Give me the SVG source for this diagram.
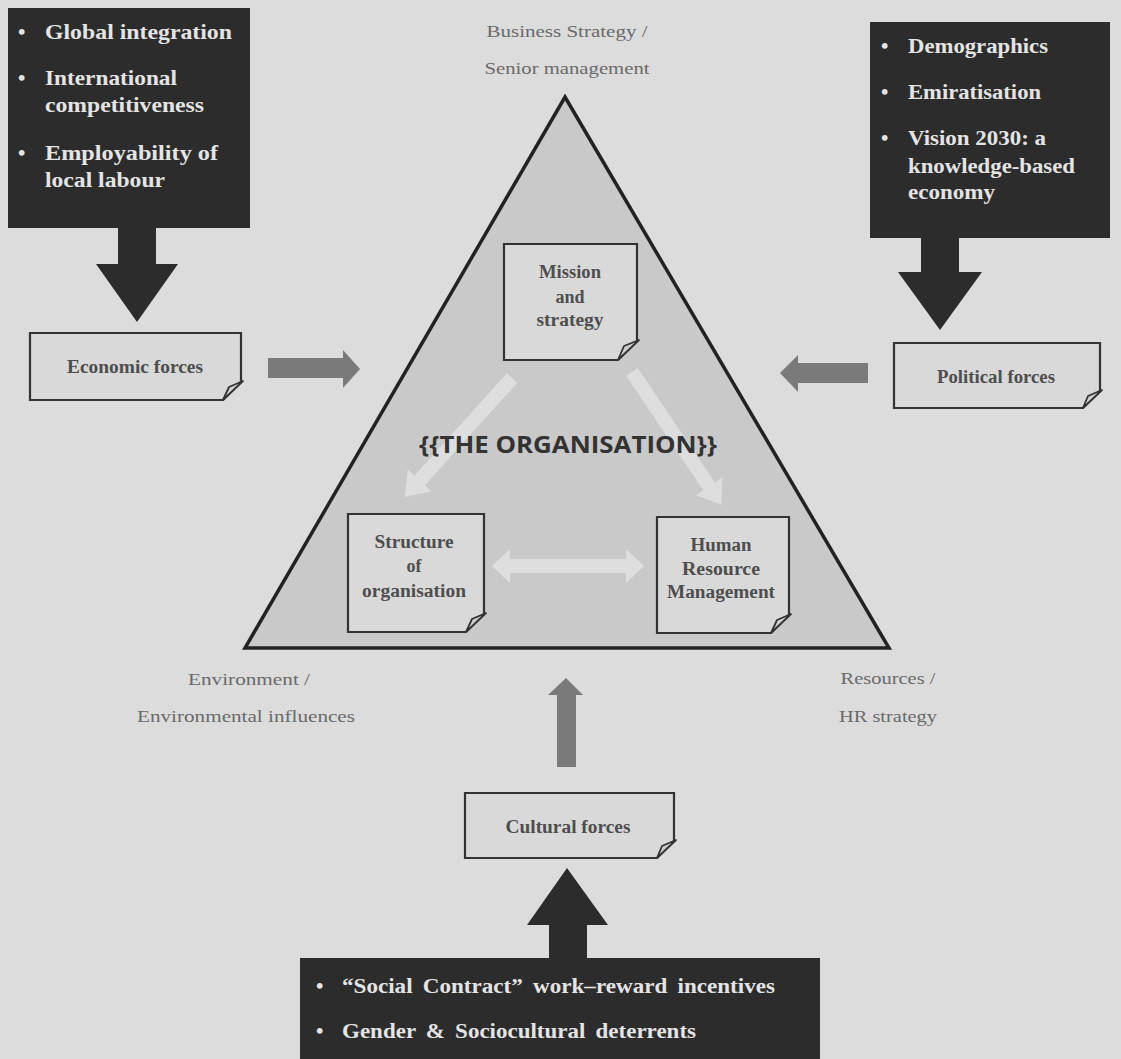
<svg xmlns="http://www.w3.org/2000/svg" width="1121" height="1059" viewBox="0 0 1121 1059">
<defs>
<style>
.dark{fill:#2c2c2c}
.bul{font-family:"Liberation Serif",serif;font-weight:bold;font-size:21px;fill:#e4e4e4}
.bb{font-family:"Liberation Serif",serif;font-weight:bold;font-size:17px;fill:#e4e4e4}
.note{fill:#d9d9d9;stroke:#333;stroke-width:2.2}
.flap{fill:#cfcfcf;stroke:#333;stroke-width:1.8;stroke-linejoin:round}
.nt{font-family:"Liberation Serif",serif;font-weight:bold;font-size:18px;fill:#4e4e4e;text-anchor:middle}
.lbl{font-family:"Liberation Serif",serif;font-size:17px;fill:#6a6a6a;text-anchor:middle}
.garr{fill:#7a7a7a}
.larr{fill:#e2e2e2}
</style>
</defs>
<rect width="1121" height="1059" fill="#dcdcdc"/>

<g id="triangle">
<polygon points="565,97 889,648 245,648" fill="#c9c9c9" stroke="#222" stroke-width="3.5" stroke-linejoin="miter"/>
</g>

<g id="labels">
<text class="lbl" x="567" y="37" textLength="161" lengthAdjust="spacingAndGlyphs">Business Strategy /</text>
<text class="lbl" x="567" y="74" textLength="165" lengthAdjust="spacingAndGlyphs">Senior management</text>
<text class="lbl" x="249" y="685" textLength="122" lengthAdjust="spacingAndGlyphs">Environment /</text>
<text class="lbl" x="246" y="722" textLength="218" lengthAdjust="spacingAndGlyphs">Environmental influences</text>
<text class="lbl" x="888" y="684" textLength="95" lengthAdjust="spacingAndGlyphs">Resources /</text>
<text class="lbl" x="888" y="722" textLength="98" lengthAdjust="spacingAndGlyphs">HR strategy</text>
</g>

<g id="connectors">
<polygon class="dark" points="118,228 156,228 156,264 178,264 137,322 96,264 118,264"/>
<polygon class="dark" points="921,238 959,238 959,272 982,272 940,330 898,272 921,272"/>
<polygon class="dark" points="549,958 587,958 587,925 608,925 567,868 527,925 549,925"/>
<polygon class="garr" points="268,358 343,358 343,350 360,369 343,388 343,378 268,378"/>
<polygon class="garr" points="868,363 798,363 798,355 780,373 798,392 798,383 868,383"/>
<polygon class="garr" points="557,767 557,695 548,695 566,678 583,695 576,695 576,767"/>
<polygon class="larr" opacity="0.85" transform="translate(512,378) rotate(132)" points="0,-7 138,-7 138,-16 160,0 138,16 138,7 0,7"/>
<polygon class="larr" opacity="0.85" transform="translate(632,372) rotate(56)" points="0,-7 138,-7 138,-16 160,0 138,16 138,7 0,7"/>
<polygon class="larr" opacity="0.85" points="492,566 510,549 510,559 626,559 626,549 644,566 626,583 626,573 510,573 510,583"/>
</g>

<g id="organisation-title">
<text x="568" y="453" font-family="'Open Sans',sans-serif" font-weight="bold" font-size="24" fill="#333" text-anchor="middle" textLength="298" lengthAdjust="spacingAndGlyphs">{{THE ORGANISATION}}</text>
</g>

<g id="economic-box">
<rect class="dark" x="8" y="8" width="242" height="220"/>
<text class="bul" x="18" y="39">•</text><text class="bul" x="45" y="39" textLength="187" lengthAdjust="spacingAndGlyphs">Global integration</text>
<text class="bul" x="18" y="85">•</text><text class="bul" x="45" y="85" textLength="132" lengthAdjust="spacingAndGlyphs">International</text>
<text class="bul" x="45" y="112" textLength="159" lengthAdjust="spacingAndGlyphs">competitiveness</text>
<text class="bul" x="18" y="160">•</text><text class="bul" x="45" y="160" textLength="173" lengthAdjust="spacingAndGlyphs">Employability of</text>
<text class="bul" x="45" y="187" textLength="120" lengthAdjust="spacingAndGlyphs">local labour</text>
</g>

<g id="political-box">
<rect class="dark" x="870" y="22" width="240" height="216"/>
<text class="bul" x="881" y="53">•</text><text class="bul" x="908" y="53" textLength="140" lengthAdjust="spacingAndGlyphs">Demographics</text>
<text class="bul" x="881" y="99">•</text><text class="bul" x="908" y="99" textLength="133" lengthAdjust="spacingAndGlyphs">Emiratisation</text>
<text class="bul" x="881" y="145">•</text><text class="bul" x="908" y="145" textLength="138" lengthAdjust="spacingAndGlyphs">Vision 2030: a</text>
<text class="bul" x="908" y="173" textLength="167" lengthAdjust="spacingAndGlyphs">knowledge-based</text>
<text class="bul" x="908" y="199" textLength="87" lengthAdjust="spacingAndGlyphs">economy</text>
</g>

<g id="cultural-box">
<rect class="dark" x="300" y="958" width="520" height="110"/>
<text class="bul" x="316" y="993">•</text><text class="bul" x="342" y="993" textLength="433" lengthAdjust="spacingAndGlyphs" word-spacing="4">“Social Contract” work–reward incentives</text>
<text class="bul" x="316" y="1038">•</text><text class="bul" x="342" y="1038" textLength="354" lengthAdjust="spacingAndGlyphs" word-spacing="4">Gender &amp; Sociocultural deterrents</text>
</g>

<g id="economic-forces">
<path class="note" d="M30,333 H241 V382 L223,400 H30 Z"/>
<path class="flap" d="M243,381 L229,387 L223,400 Z"/>
<text class="nt" x="135" y="373" textLength="136" lengthAdjust="spacingAndGlyphs">Economic forces</text>
</g>

<g id="political-forces">
<path class="note" d="M894,343 H1100 V391 L1083,408 H894 Z"/>
<path class="flap" d="M1102,390 L1088,396 L1083,408 Z"/>
<text class="nt" x="996" y="383" textLength="118" lengthAdjust="spacingAndGlyphs">Political forces</text>
</g>

<g id="cultural-forces">
<path class="note" d="M465,793 H674 V841 L657,858 H465 Z"/>
<path class="flap" d="M676,840 L662,846 L657,858 Z"/>
<text class="nt" x="568" y="833" textLength="125" lengthAdjust="spacingAndGlyphs">Cultural forces</text>
</g>

<g id="mission">
<path class="note" d="M504,244 H637 V341 L618,360 H504 Z"/>
<path class="flap" d="M639,340 L624,346 L618,360 Z"/>
<text class="nt" x="570" y="278" textLength="62" lengthAdjust="spacingAndGlyphs">Mission</text>
<text class="nt" x="570" y="303">and</text>
<text class="nt" x="570" y="326" textLength="67" lengthAdjust="spacingAndGlyphs">strategy</text>
</g>

<g id="structure">
<path class="note" d="M348,514 H484 V614 L466,632 H348 Z"/>
<path class="flap" d="M486,613 L472,619 L466,632 Z"/>
<text class="nt" x="414" y="548" textLength="79" lengthAdjust="spacingAndGlyphs">Structure</text>
<text class="nt" x="414" y="572">of</text>
<text class="nt" x="414" y="597" textLength="104" lengthAdjust="spacingAndGlyphs">organisation</text>
</g>

<g id="hrm">
<path class="note" d="M657,517 H789 V615 L771,633 H657 Z"/>
<path class="flap" d="M791,614 L777,620 L771,633 Z"/>
<text class="nt" x="721" y="551" textLength="61" lengthAdjust="spacingAndGlyphs">Human</text>
<text class="nt" x="721" y="575" textLength="78" lengthAdjust="spacingAndGlyphs">Resource</text>
<text class="nt" x="721" y="598" textLength="108" lengthAdjust="spacingAndGlyphs">Management</text>
</g>
</svg>
